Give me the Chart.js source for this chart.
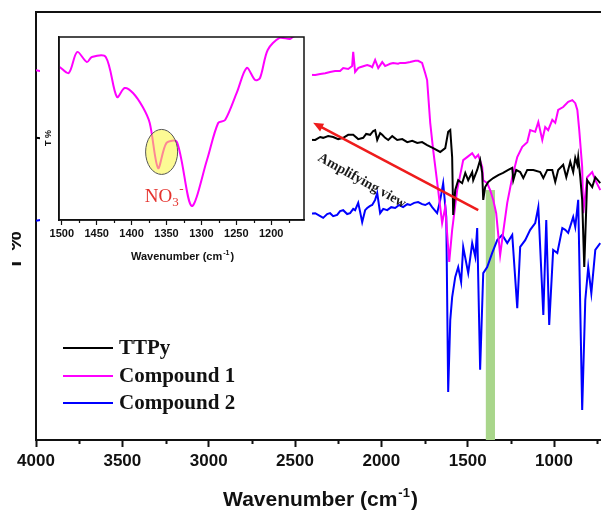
<!DOCTYPE html>
<html>
<head>
<meta charset="utf-8">
<script src="https://cdn.jsdelivr.net/npm/chart.js@4.4.1/dist/chart.umd.min.js"></script>
<style>
  body { margin: 0; background: #fff; }
  #wrap { position: relative; width: 601px; height: 511px; overflow: hidden; }
  #ftir { display: block; }
  #inset { position: absolute; left: 40px; top: 22px; background: #fff; }
</style>
</head>
<body>
<div id="wrap">
  <canvas id="ftir" width="601" height="511"></canvas>
  <canvas id="inset" width="272" height="248"></canvas>
</div>
<script>
// FTIR spectra (T% in arbitrary offset units, 0-100 of the plot height)
const ttpyWn = [4000, 3950, 3870, 3500, 3000, 2600, 2383, 2354, 2337, 2308, 2279, 2250, 2221, 2192, 2163, 2134,
  2105, 2088, 2065, 2047, 2036, 2024, 2007, 1995, 1978, 1960, 1937, 1908, 1879, 1850, 1821, 1792, 1764, 1735, 1700, 1659,
  1630, 1613, 1601, 1590, 1584, 1572, 1555, 1532, 1514, 1497, 1474, 1468, 1445, 1428, 1416, 1410, 1399, 1381, 1352, 1323,
  1295, 1265, 1242, 1236, 1219, 1196, 1178, 1155, 1120, 1080, 1062, 1039, 1010, 993, 976, 947, 929, 906, 889, 877,
  865, 860, 848, 837, 825, 808, 779, 761, 732];
const ttpyT = [70.6, 70.4, 70.5, 70.6, 70.3, 70.4, 70.1, 70.8, 70.6, 71.0, 70.8, 70.3, 70.6, 71.3, 71.3, 70.3,
  70.6, 71.5, 71.3, 72.2, 72.4, 70.1, 71.7, 71.3, 70.6, 70.1, 71.0, 70.1, 70.3, 69.6, 69.9, 69.4, 69.6, 68.9, 68.2, 67.3,
  68.2, 72.0, 72.4, 66.1, 52.6, 58.4, 60.7, 60.0, 62.4, 60.7, 62.6, 60.7, 63.1, 65.4, 62.4, 56.1, 59.1, 60.3, 61.2, 61.9,
  62.4, 63.1, 63.6, 60.7, 63.1, 62.6, 61.2, 63.1, 63.1, 62.6, 61.2, 63.1, 63.1, 60.3, 63.1, 64.3, 61.4, 65.0, 62.6, 65.9,
  64.3, 66.1, 61.4, 56.1, 40.4, 60.7, 59.1, 61.4, 60.0];

const comp1Wn = [4000, 3950, 3870, 3500, 3000, 2600, 2383, 2354, 2325, 2297, 2268, 2239, 2221, 2192, 2169, 2163,
  2152, 2134, 2123, 2100, 2082, 2065, 2053, 2036, 2018, 1995, 1978, 1966, 1949, 1932, 1903, 1891, 1862, 1833, 1804, 1787,
  1764, 1746, 1735, 1717, 1700, 1671, 1648, 1630, 1607, 1590, 1572, 1561, 1538, 1526, 1503, 1474, 1456, 1439, 1416, 1410,
  1387, 1370, 1352, 1335, 1323, 1312, 1295, 1271, 1242, 1213, 1184, 1155, 1138, 1109, 1091, 1068, 1051, 1034, 1010, 993,
  976, 947, 918, 894, 877, 865, 854, 837, 831, 808, 779, 761, 732];
const comp1T = [86.4, 86.0, 86.2, 86.5, 86.0, 85.5, 85.3, 85.5, 85.7, 86.0, 86.2, 86.2, 86.9, 86.7, 87.4, 90.7,
  86.0, 86.9, 87.1, 87.4, 87.6, 87.4, 87.1, 88.8, 86.9, 88.3, 87.4, 87.6, 87.9, 88.1, 87.9, 88.1, 88.1, 88.3, 88.6, 88.6,
  88.1, 85.7, 84.1, 74.1, 67.8, 58.4, 50.7, 54.4, 41.6, 49.1, 54.9, 58.4, 63.0, 65.4, 66.1, 67.0, 65.9, 66.6, 63.8, 60.7,
  60.0, 58.4, 56.1, 53.0, 48.0, 43.2, 48.4, 55.4, 61.4, 66.1, 68.5, 69.6, 72.4, 72.0, 74.3, 70.1, 73.1, 72.4, 74.8, 74.1,
  77.1, 77.8, 79.0, 79.4, 78.7, 77.1, 72.4, 63.8, 53.0, 61.4, 62.6, 60.7, 58.4];

const comp2Wn = [4000, 3950, 3870, 3500, 3000, 2600, 2383, 2354, 2337, 2314, 2297, 2279, 2256, 2239, 2221, 2198,
  2181, 2163, 2152, 2134, 2123, 2111, 2094, 2082, 2065, 2053, 2036, 2024, 2007, 1989, 1966, 1943, 1920, 1897, 1874, 1850,
  1833, 1810, 1787, 1764, 1746, 1723, 1706, 1677, 1659, 1642, 1624, 1613, 1601, 1590,
  1572, 1555, 1538, 1526, 1497, 1474, 1456, 1445, 1428, 1410, 1387, 1358, 1329, 1300, 1271, 1242, 1213, 1196, 1167, 1138,
  1109, 1091, 1062, 1045, 1028, 1005, 981, 952, 935, 918, 889, 877, 860, 837, 819, 802, 784, 761, 732];
const comp2T = [51.2, 51.6, 52.0, 52.3, 52.0, 52.2, 53.0, 52.3, 51.9, 52.8, 53.0, 52.3, 52.6, 53.5, 53.7, 52.8,
  53.0, 54.0, 53.7, 55.4, 53.3, 50.9, 53.7, 54.2, 54.7, 54.9, 56.1, 57.7, 53.0, 54.0, 53.7, 54.4, 54.2, 54.9, 54.4, 55.1,
  54.9, 55.4, 55.6, 55.1, 54.9, 55.4, 54.4, 53.0, 56.1, 60.0, 52.1, 11.2, 28.0, 33.4,
  38.1, 40.4, 36.9, 45.1, 39.0, 46.0, 42.8, 49.5, 16.4, 39.0, 40.4, 43.7, 46.7, 47.9, 46.0, 47.9, 30.8, 45.1, 46.7, 49.1,
  50.7, 54.4, 29.2, 51.4, 26.9, 44.4, 43.7, 49.5, 49.1, 48.4, 52.1, 49.8, 56.1, 7.0, 32.7, 40.4, 34.3, 44.4, 46.0];

// inset: compound 1, 1500-1150 cm-1
const insetWn = [1503, 1490, 1478, 1464, 1457, 1437, 1421, 1410, 1398, 1384, 1374, 1362, 1350, 1335, 1314, 1292,
  1276, 1266, 1249, 1235, 1223, 1216, 1205, 1188, 1173, 1169, 1155];
const insetT = [83.6, 80.3, 91.8, 86.3, 89.1, 89.1, 67.2, 72.1, 69.4, 61.7, 53.0, 28.4, 42.1, 42.6, 7.7, 32.8,
  53.0, 54.6, 69.9, 83.1, 76.5, 77.6, 92.9, 99.5, 98.9, 100, 103];

const labels = ['TTPy', 'Compound 1', 'Compound 2'];
const colors = ['#000000', '#ff00ff', '#0000ff'];
const xTicks = [4000, 3500, 3000, 2500, 2000, 1500, 1000];
const insetTicks = [1500, 1450, 1400, 1350, 1300, 1250, 1200];

// annotations (data coordinates)
const band = [1395, 1342];      // green NO3- band
const bandTop = 58.4;
const arrowFrom = [1439, 53.7];
const arrowTo = [2395, 74.1];
const arrowText = [2372, 65.4];
const no3Circle = [1357, 37.2];
const no3Text = [1381, 9.8];

const SANS = "'Liberation Sans', Arial, sans-serif";
const SERIF = "'Liberation Serif', 'Times New Roman', serif";

function pts(xs, ys) {
  return xs.map((x, i) => ({ x: x, y: ys[i] }));
}

function supTitle(ctx, cx, base, size, supSize) {
  const a = 'Wavenumber (cm', s = '-1', b = ')';
  ctx.font = 'bold ' + size + 'px ' + SANS;
  const wa = ctx.measureText(a).width, wb = ctx.measureText(b).width;
  ctx.font = 'bold ' + supSize + 'px ' + SANS;
  const ws = ctx.measureText(s).width;
  let x = cx - (wa + ws + wb) / 2;
  ctx.textAlign = 'left';
  ctx.textBaseline = 'alphabetic';
  ctx.font = 'bold ' + size + 'px ' + SANS;
  ctx.fillText(a, x, base);
  ctx.font = 'bold ' + supSize + 'px ' + SANS;
  ctx.fillText(s, x + wa + 1, base - size * 0.42);
  ctx.font = 'bold ' + size + 'px ' + SANS;
  ctx.fillText(b, x + wa + ws + 2, base);
}

function minorTicks(ctx, scale, from, step, len, width) {
  ctx.strokeStyle = '#111';
  ctx.lineWidth = width;
  ctx.beginPath();
  for (let v = from; v > scale.min; v -= step) {
    if (v > scale.max) continue;
    const px = Math.round(scale.getPixelForValue(v)) + 0.5;
    ctx.moveTo(px, scale.top);
    ctx.lineTo(px, scale.top + len);
  }
  ctx.stroke();
}

const mainDecor = {
  id: 'mainDecor',
  beforeDatasetsDraw(chart) {
    const { ctx, scales: { x, y } } = chart;
    const l = x.getPixelForValue(band[0]), r = x.getPixelForValue(band[1]);
    const t = y.getPixelForValue(bandTop), b = y.getPixelForValue(0);
    ctx.save();
    ctx.fillStyle = '#a9d68b';
    ctx.fillRect(Math.min(l, r), t, Math.abs(r - l), b - t);
    ctx.restore();
  },
  afterDatasetsDraw(chart) {
    const { ctx, scales: { x, y } } = chart;
    ctx.save();
    // arrow
    const x0 = x.getPixelForValue(arrowFrom[0]), y0 = y.getPixelForValue(arrowFrom[1]);
    const x1 = x.getPixelForValue(arrowTo[0]), y1 = y.getPixelForValue(arrowTo[1]);
    const ang = Math.atan2(y1 - y0, x1 - x0);
    const head = 11;
    ctx.strokeStyle = '#ee1c1c';
    ctx.fillStyle = '#ee1c1c';
    ctx.lineWidth = 2.5;
    ctx.beginPath();
    ctx.moveTo(x0, y0);
    ctx.lineTo(x1 - Math.cos(ang) * head * 0.8, y1 - Math.sin(ang) * head * 0.8);
    ctx.stroke();
    ctx.beginPath();
    ctx.moveTo(x1, y1);
    ctx.lineTo(x1 - Math.cos(ang - 0.4) * head, y1 - Math.sin(ang - 0.4) * head);
    ctx.lineTo(x1 - Math.cos(ang + 0.4) * head, y1 - Math.sin(ang + 0.4) * head);
    ctx.closePath();
    ctx.fill();

    // "Amplifying view"
    ctx.translate(x.getPixelForValue(arrowText[0]), y.getPixelForValue(arrowText[1]));
    ctx.rotate(ang + Math.PI + 0.02);
    ctx.fillStyle = '#1a1a1a';
    ctx.font = 'bold 14px ' + SERIF;
    ctx.textAlign = 'left';
    ctx.textBaseline = 'alphabetic';
    ctx.fillText('Amplifying view', 0, 0);
    ctx.restore();

    // legend
    ctx.save();
    const rows = [348, 376, 403];
    chart.data.datasets.forEach((ds, i) => {
      ctx.strokeStyle = ds.borderColor;
      ctx.lineWidth = 2;
      ctx.beginPath();
      ctx.moveTo(63, rows[i]);
      ctx.lineTo(113, rows[i]);
      ctx.stroke();
      ctx.fillStyle = '#111';
      ctx.font = 'bold 21px ' + SERIF;
      ctx.textBaseline = 'middle';
      ctx.fillText(ds.label, 119, rows[i] + 1);
    });
    ctx.restore();
  },
  afterDraw(chart) {
    const { ctx, chartArea: a, scales: { x } } = chart;
    ctx.save();
    ctx.strokeStyle = '#111';
    ctx.lineWidth = 2;
    ctx.beginPath();
    ctx.moveTo(a.left - 1, a.top);
    ctx.lineTo(a.right, a.top);
    ctx.stroke();
    minorTicks(ctx, x, 3750, 500, 4, 2);

    ctx.fillStyle = '#111';
    supTitle(ctx, (a.left + a.right) / 2 + 1, 506, 21, 13);

    // y title, cut by the left edge as in the figure
    ctx.beginPath();
    ctx.rect(12, 0, a.left - 12, chart.height);
    ctx.clip();
    ctx.translate(21, 251);
    ctx.rotate(-Math.PI / 2);
    ctx.font = 'bold 22px ' + SANS;
    ctx.textAlign = 'center';
    ctx.textBaseline = 'alphabetic';
    ctx.fillText('T %', 0, 0);
    ctx.restore();
  }
};

const insetDecor = {
  id: 'insetDecor',
  afterDatasetsDraw(chart) {
    const { ctx, scales: { x, y } } = chart;
    ctx.save();
    ctx.beginPath();
    ctx.ellipse(x.getPixelForValue(no3Circle[0]), y.getPixelForValue(no3Circle[1]), 16, 22.5, 0, 0, Math.PI * 2);
    ctx.fillStyle = 'rgba(250, 245, 60, 0.55)';
    ctx.fill();
    ctx.strokeStyle = '#555';
    ctx.lineWidth = 1;
    ctx.stroke();

    const tx = x.getPixelForValue(no3Text[0]), ty = y.getPixelForValue(no3Text[1]);
    ctx.fillStyle = '#e5322d';
    ctx.textBaseline = 'alphabetic';
    ctx.textAlign = 'left';
    ctx.font = '19px ' + SERIF;
    ctx.fillText('NO', tx, ty);
    const w = ctx.measureText('NO').width;
    ctx.font = '13px ' + SERIF;
    ctx.fillText('3', tx + w, ty + 4);
    ctx.fillText('-', tx + w + 7, ty - 9);
    ctx.restore();
  },
  afterDraw(chart) {
    const { ctx, chartArea: a, scales: { x } } = chart;
    ctx.save();
    ctx.strokeStyle = '#111';
    ctx.lineWidth = 1.5;
    ctx.strokeRect(a.left, a.top, a.right - a.left, a.bottom - a.top);
    minorTicks(ctx, x, 1475, 50, 3, 1.2);
    ctx.fillStyle = '#111';
    supTitle(ctx, (a.left + a.right) / 2, 238, 11, 7);
    ctx.translate(9, 116);
    ctx.rotate(-Math.PI / 2);
    ctx.font = 'bold 9px ' + SANS;
    ctx.textAlign = 'center';
    ctx.textBaseline = 'middle';
    ctx.fillText('T %', 0, 0);
    ctx.restore();
  }
};

new Chart(document.getElementById('ftir'), {
  type: 'line',
  data: {
    datasets: [
      { label: labels[0], data: pts(ttpyWn, ttpyT), borderColor: colors[0] },
      { label: labels[1], data: pts(comp1Wn, comp1T), borderColor: colors[1] },
      { label: labels[2], data: pts(comp2Wn, comp2T), borderColor: colors[2] }
    ]
  },
  options: {
    responsive: false,
    animation: false,
    layout: { padding: { top: 12, left: 0, right: 0, bottom: 0 } },
    elements: { point: { radius: 0 }, line: { borderWidth: 2, tension: 0 } },
    plugins: { legend: { display: false }, tooltip: { enabled: false } },
    scales: {
      x: {
        type: 'linear', reverse: true, min: 728, max: 4000,
        afterBuildTicks: s => { s.ticks = xTicks.map(v => ({ value: v })); },
        ticks: { autoSkip: false, maxRotation: 0, padding: 4, callback: v => String(v),
                 color: '#111', font: { family: SANS, size: 17, weight: 'bold' } },
        grid: { drawOnChartArea: false, tickLength: 7, tickWidth: 2, tickColor: '#111' },
        border: { color: '#111', width: 2 },
        afterFit: s => { s.height = 71; s.paddingLeft = 0; s.paddingRight = 0; }
      },
      y: {
        min: 0, max: 100,
        ticks: { display: false },
        grid: { display: false },
        border: { color: '#111', width: 2 },
        afterFit: s => { s.width = 36; }
      }
    }
  },
  plugins: [mainDecor]
});

new Chart(document.getElementById('inset'), {
  type: 'line',
  data: {
    datasets: [{ label: labels[1], data: pts(insetWn, insetT), borderColor: colors[1], borderWidth: 2, tension: 0.3 }]
  },
  options: {
    responsive: false,
    animation: false,
    layout: { padding: { top: 15, left: 0, right: 8, bottom: 0 } },
    elements: { point: { radius: 0 } },
    plugins: { legend: { display: false }, tooltip: { enabled: false } },
    scales: {
      x: {
        type: 'linear', reverse: true, min: 1153, max: 1504,
        afterBuildTicks: s => { s.ticks = insetTicks.map(v => ({ value: v })); },
        ticks: { autoSkip: false, maxRotation: 0, padding: 2, callback: v => String(v),
                 color: '#111', font: { family: SANS, size: 11, weight: 'bold' } },
        grid: { drawOnChartArea: false, tickLength: 5, tickWidth: 1.2, tickColor: '#111' },
        border: { color: '#111', width: 1.5 },
        afterFit: s => { s.height = 50; s.paddingLeft = 0; s.paddingRight = 0; }
      },
      y: {
        min: 0, max: 100,
        ticks: { display: false },
        grid: { display: false },
        border: { color: '#111', width: 1.5 },
        afterFit: s => { s.width = 19; }
      }
    }
  },
  plugins: [insetDecor]
});
</script>
</body>
</html>
